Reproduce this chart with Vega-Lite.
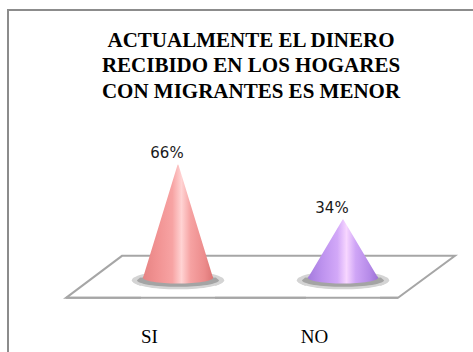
{
  "$schema": "https://vega.github.io/schema/vega-lite/v6.json",
  "width": 486,
  "height": 350,
  "autosize": "none",
  "padding": {"left": 8, "top": 10, "right": -21, "bottom": -8},
  "background": "white",
  "config": {
    "view": {"stroke": "#8c8c8c", "strokeWidth": 2}
  },
  "datasets": {
    "respuestas": [
      {"respuesta": "SI", "porcentaje": 0.66, "base": 0},
      {"respuesta": "NO", "porcentaje": 0.34, "base": 0}
    ],
    "plataforma": [{"elemento": "plataforma"}],
    "titulo": [{"elemento": "titulo"}]
  },
  "data": {"name": "respuestas"},
  "layer": [
    {
      "data": {"name": "titulo"},
      "mark": {"type": "text", "text": "ACTUALMENTE EL DINERO", "font": "Liberation Serif", "fontWeight": "bold", "fontSize": 21},
      "encoding": {
        "y": {"datum": 1.3839, "type": "quantitative", "scale": {"domain": [-0.48, 1.565], "nice": false, "zero": false}, "axis": null}
      }
    },
    {
      "data": {"name": "titulo"},
      "mark": {"type": "text", "text": "RECIBIDO EN LOS HOGARES", "font": "Liberation Serif", "fontWeight": "bold", "fontSize": 21},
      "encoding": {
        "y": {"datum": 1.2349, "type": "quantitative", "scale": {"domain": [-0.48, 1.565], "nice": false, "zero": false}, "axis": null}
      }
    },
    {
      "data": {"name": "titulo"},
      "mark": {"type": "text", "text": "CON MIGRANTES ES MENOR", "font": "Liberation Serif", "fontWeight": "bold", "fontSize": 21},
      "encoding": {
        "y": {"datum": 1.0859, "type": "quantitative", "scale": {"domain": [-0.48, 1.565], "nice": false, "zero": false}, "axis": null}
      }
    },
    {
      "data": {"name": "plataforma"},
      "mark": {"type": "point", "shape": "M-0.925,0.1L-0.645,-0.11L1.02,-0.11L0.735,0.1Z", "size": 160000, "filled": true, "fill": "white", "stroke": "#a6a6a6", "strokeWidth": 2, "opacity": 1},
      "encoding": {
        "y": {"datum": 0, "type": "quantitative", "scale": {"domain": [-0.48, 1.565], "nice": false, "zero": false}, "axis": null}
      }
    },
    {
      "mark": {"type": "point", "shape": "M-1,0.05C-1,-0.06 -0.552,-0.15 0,-0.15C0.552,-0.15 1,-0.06 1,0.05C1,0.16 0.552,0.25 0,0.25C-0.552,0.25 -1,0.16 -1,0.05Z", "size": 8464, "filled": true, "fill": "#d4d4d4", "strokeWidth": 0, "opacity": 1},
      "encoding": {
        "x": {"field": "respuesta", "type": "nominal", "sort": ["SI", "NO"], "scale": {"type": "point", "padding": 0.9727, "align": 0.5296}, "axis": {"orient": "bottom", "title": null, "domain": false, "ticks": false, "tickSize": 0, "labelPadding": 0, "offset": -18, "labelBaseline": "alphabetic", "labelOffset": -29, "labelFont": "Liberation Serif", "labelFontSize": 19, "labelColor": "black", "labelAngle": 0, "grid": false}},
        "y": {"datum": 0, "type": "quantitative", "scale": {"domain": [-0.48, 1.565], "nice": false, "zero": false}, "axis": null}
      }
    },
    {
      "mark": {"type": "point", "shape": "M-1,0.06C-1,-0.028 -0.552,-0.1 0,-0.1C0.552,-0.1 1,-0.028 1,0.06C1,0.148 0.552,0.22 0,0.22C-0.552,0.22 -1,0.148 -1,0.06Z", "size": 6724, "filled": true, "fill": "#a4a4a4", "strokeWidth": 0, "opacity": 1},
      "encoding": {
        "x": {"field": "respuesta", "type": "nominal", "sort": ["SI", "NO"], "scale": {"type": "point", "padding": 0.9727, "align": 0.5296}, "axis": {"orient": "bottom", "title": null, "domain": false, "ticks": false, "tickSize": 0, "labelPadding": 0, "offset": -18, "labelBaseline": "alphabetic", "labelOffset": -29, "labelFont": "Liberation Serif", "labelFontSize": 19, "labelColor": "black", "labelAngle": 0, "grid": false}},
        "y": {"datum": 0, "type": "quantitative", "scale": {"domain": [-0.48, 1.565], "nice": false, "zero": false}, "axis": null}
      }
    },
    {
      "transform": [{"filter": "datum.respuesta === 'SI'"}, {"fold": ["base", "porcentaje"], "as": ["punto", "altura"]}],
      "mark": {"type": "trail", "fill": {"gradient": "linear", "x1": 0, "y1": 0, "x2": 1, "y2": 0, "stops": [{"offset": 0, "color": "#e68383"}, {"offset": 0.2, "color": "#f19292"}, {"offset": 0.42, "color": "#f7a3a3"}, {"offset": 0.55, "color": "#ffd3d3"}, {"offset": 0.68, "color": "#f6a2a2"}, {"offset": 0.88, "color": "#ec8b8b"}, {"offset": 1, "color": "#dc7676"}]}},
      "encoding": {
        "x": {"field": "respuesta", "type": "nominal", "sort": ["SI", "NO"], "scale": {"type": "point", "padding": 0.9727, "align": 0.5296}, "axis": {"orient": "bottom", "title": null, "domain": false, "ticks": false, "tickSize": 0, "labelPadding": 0, "offset": -18, "labelBaseline": "alphabetic", "labelOffset": -29, "labelFont": "Liberation Serif", "labelFontSize": 19, "labelColor": "black", "labelAngle": 0, "grid": false}},
        "y": {"field": "altura", "type": "quantitative", "scale": {"domain": [-0.48, 1.565], "nice": false, "zero": false}, "axis": null},
        "size": {"field": "punto", "type": "ordinal", "scale": {"type": "ordinal", "domain": ["base", "porcentaje"], "range": [70, 0]}, "legend": null},
        "order": {"field": "altura", "type": "quantitative"}
      }
    },
    {
      "transform": [{"filter": "datum.respuesta === 'NO'"}, {"fold": ["base", "porcentaje"], "as": ["punto", "altura"]}],
      "mark": {"type": "trail", "fill": {"gradient": "linear", "x1": 0, "y1": 0, "x2": 1, "y2": 0, "stops": [{"offset": 0, "color": "#a47bde"}, {"offset": 0.2, "color": "#bd92ee"}, {"offset": 0.42, "color": "#d2a8f8"}, {"offset": 0.55, "color": "#f7d6ff"}, {"offset": 0.68, "color": "#cfa5f6"}, {"offset": 0.88, "color": "#b58ae8"}, {"offset": 1, "color": "#9c73d4"}]}},
      "encoding": {
        "x": {"field": "respuesta", "type": "nominal", "sort": ["SI", "NO"], "scale": {"type": "point", "padding": 0.9727, "align": 0.5296}, "axis": {"orient": "bottom", "title": null, "domain": false, "ticks": false, "tickSize": 0, "labelPadding": 0, "offset": -18, "labelBaseline": "alphabetic", "labelOffset": -29, "labelFont": "Liberation Serif", "labelFontSize": 19, "labelColor": "black", "labelAngle": 0, "grid": false}},
        "y": {"field": "altura", "type": "quantitative", "scale": {"domain": [-0.48, 1.565], "nice": false, "zero": false}, "axis": null},
        "size": {"field": "punto", "type": "ordinal", "scale": {"type": "ordinal", "domain": ["base", "porcentaje"], "range": [70, 0]}, "legend": null},
        "order": {"field": "altura", "type": "quantitative"}
      }
    },
    {
      "mark": {"type": "point", "shape": "M-1,0L1,0L1,1.1L-1,1.1Z", "size": 5476, "filled": true, "fill": "white", "strokeWidth": 0, "opacity": 1},
      "encoding": {
        "x": {"field": "respuesta", "type": "nominal", "sort": ["SI", "NO"], "scale": {"type": "point", "padding": 0.9727, "align": 0.5296}, "axis": {"orient": "bottom", "title": null, "domain": false, "ticks": false, "tickSize": 0, "labelPadding": 0, "offset": -18, "labelBaseline": "alphabetic", "labelOffset": -29, "labelFont": "Liberation Serif", "labelFontSize": 19, "labelColor": "black", "labelAngle": 0, "grid": false}},
        "y": {"datum": 0, "type": "quantitative", "scale": {"domain": [-0.48, 1.565], "nice": false, "zero": false}, "axis": null}
      }
    },
    {
      "data": {"name": "plataforma"},
      "mark": {"type": "point", "shape": "M-0.925,0.1L0.735,0.1", "size": 160000, "filled": false, "stroke": "#a6a6a6", "strokeWidth": 2, "opacity": 1},
      "encoding": {
        "y": {"datum": 0, "type": "quantitative", "scale": {"domain": [-0.48, 1.565], "nice": false, "zero": false}, "axis": null}
      }
    },
    {
      "mark": {"type": "point", "shape": "M-0.968,0L-1,0.05C-1,0.16 -0.552,0.25 0,0.25C0.552,0.25 1,0.16 1,0.05L0.968,0Z", "size": 8464, "filled": true, "fill": "#d4d4d4", "strokeWidth": 0, "opacity": 1},
      "encoding": {
        "x": {"field": "respuesta", "type": "nominal", "sort": ["SI", "NO"], "scale": {"type": "point", "padding": 0.9727, "align": 0.5296}, "axis": {"orient": "bottom", "title": null, "domain": false, "ticks": false, "tickSize": 0, "labelPadding": 0, "offset": -18, "labelBaseline": "alphabetic", "labelOffset": -29, "labelFont": "Liberation Serif", "labelFontSize": 19, "labelColor": "black", "labelAngle": 0, "grid": false}},
        "y": {"datum": 0, "type": "quantitative", "scale": {"domain": [-0.48, 1.565], "nice": false, "zero": false}, "axis": null}
      }
    },
    {
      "mark": {"type": "point", "shape": "M-0.927,0L-1,0.06C-1,0.148 -0.552,0.22 0,0.22C0.552,0.22 1,0.148 1,0.06L0.927,0Z", "size": 6724, "filled": true, "fill": "#a4a4a4", "strokeWidth": 0, "opacity": 1},
      "encoding": {
        "x": {"field": "respuesta", "type": "nominal", "sort": ["SI", "NO"], "scale": {"type": "point", "padding": 0.9727, "align": 0.5296}, "axis": {"orient": "bottom", "title": null, "domain": false, "ticks": false, "tickSize": 0, "labelPadding": 0, "offset": -18, "labelBaseline": "alphabetic", "labelOffset": -29, "labelFont": "Liberation Serif", "labelFontSize": 19, "labelColor": "black", "labelAngle": 0, "grid": false}},
        "y": {"datum": 0, "type": "quantitative", "scale": {"domain": [-0.48, 1.565], "nice": false, "zero": false}, "axis": null}
      }
    },
    {
      "transform": [{"filter": "datum.respuesta === 'SI'"}],
      "mark": {"type": "point", "shape": "M-1,-0.03L1,-0.03L1,0C1,0.09 0.552,0.165 0,0.165C-0.552,0.165 -1,0.09 -1,0Z", "size": 4900, "filled": true, "strokeWidth": 0, "opacity": 1, "fill": {"gradient": "linear", "x1": 0, "y1": 0, "x2": 1, "y2": 0, "stops": [{"offset": 0, "color": "#e68383"}, {"offset": 0.2, "color": "#f19292"}, {"offset": 0.42, "color": "#f7a3a3"}, {"offset": 0.55, "color": "#ffd3d3"}, {"offset": 0.68, "color": "#f6a2a2"}, {"offset": 0.88, "color": "#ec8b8b"}, {"offset": 1, "color": "#dc7676"}]}},
      "encoding": {
        "x": {"field": "respuesta", "type": "nominal", "sort": ["SI", "NO"], "scale": {"type": "point", "padding": 0.9727, "align": 0.5296}, "axis": {"orient": "bottom", "title": null, "domain": false, "ticks": false, "tickSize": 0, "labelPadding": 0, "offset": -18, "labelBaseline": "alphabetic", "labelOffset": -29, "labelFont": "Liberation Serif", "labelFontSize": 19, "labelColor": "black", "labelAngle": 0, "grid": false}},
        "y": {"datum": 0, "type": "quantitative", "scale": {"domain": [-0.48, 1.565], "nice": false, "zero": false}, "axis": null}
      }
    },
    {
      "transform": [{"filter": "datum.respuesta === 'NO'"}],
      "mark": {"type": "point", "shape": "M-1,-0.03L1,-0.03L1,0C1,0.09 0.552,0.165 0,0.165C-0.552,0.165 -1,0.09 -1,0Z", "size": 4900, "filled": true, "strokeWidth": 0, "opacity": 1, "fill": {"gradient": "linear", "x1": 0, "y1": 0, "x2": 1, "y2": 0, "stops": [{"offset": 0, "color": "#a47bde"}, {"offset": 0.2, "color": "#bd92ee"}, {"offset": 0.42, "color": "#d2a8f8"}, {"offset": 0.55, "color": "#f7d6ff"}, {"offset": 0.68, "color": "#cfa5f6"}, {"offset": 0.88, "color": "#b58ae8"}, {"offset": 1, "color": "#9c73d4"}]}},
      "encoding": {
        "x": {"field": "respuesta", "type": "nominal", "sort": ["SI", "NO"], "scale": {"type": "point", "padding": 0.9727, "align": 0.5296}, "axis": {"orient": "bottom", "title": null, "domain": false, "ticks": false, "tickSize": 0, "labelPadding": 0, "offset": -18, "labelBaseline": "alphabetic", "labelOffset": -29, "labelFont": "Liberation Serif", "labelFontSize": 19, "labelColor": "black", "labelAngle": 0, "grid": false}},
        "y": {"datum": 0, "type": "quantitative", "scale": {"domain": [-0.48, 1.565], "nice": false, "zero": false}, "axis": null}
      }
    },
    {
      "mark": {"type": "text", "font": "DejaVu Sans", "fontSize": 15, "color": "#1a1a1a", "dx": -11, "dy": -7, "baseline": "alphabetic"},
      "encoding": {
        "x": {"field": "respuesta", "type": "nominal", "sort": ["SI", "NO"], "scale": {"type": "point", "padding": 0.9727, "align": 0.5296}, "axis": {"orient": "bottom", "title": null, "domain": false, "ticks": false, "tickSize": 0, "labelPadding": 0, "offset": -18, "labelBaseline": "alphabetic", "labelOffset": -29, "labelFont": "Liberation Serif", "labelFontSize": 19, "labelColor": "black", "labelAngle": 0, "grid": false}},
        "y": {"field": "porcentaje", "type": "quantitative", "scale": {"domain": [-0.48, 1.565], "nice": false, "zero": false}, "axis": null},
        "text": {"field": "porcentaje", "type": "quantitative", "format": ".0%"}
      }
    }
  ]
}
